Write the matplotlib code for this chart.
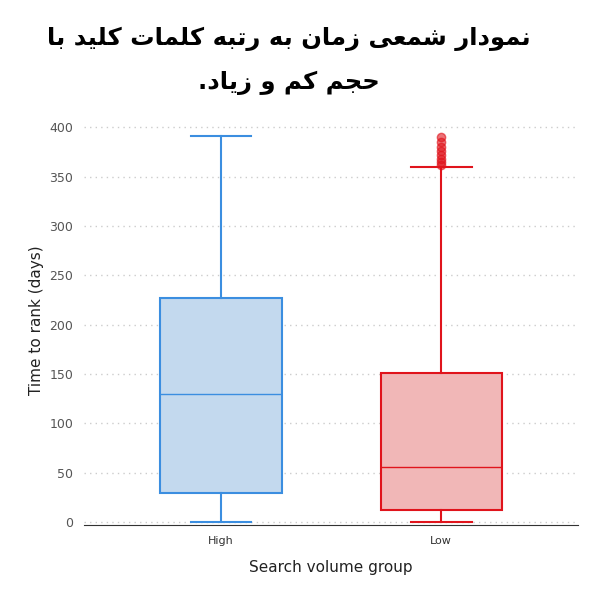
import matplotlib
matplotlib.use("Agg")
import matplotlib.pyplot as plt

groups = ["High", "Low"]
whislo = [0, 0]
q1 = [29, 12]
med = [130, 56]
q3 = [227, 151]
whishi = [391, 360]
fliers_low = [362, 365, 368, 372, 376, 380, 385, 390]
title_lines = ["نمودار شمعی زمان به رتبه کلمات کلید با", "حجم کم و زیاد."]

FORMS = {
 'ا': (0xFE8D, 0xFE8E, None, None), 'ب': (0xFE8F, 0xFE90, 0xFE91, 0xFE92),
 'ت': (0xFE95, 0xFE96, 0xFE97, 0xFE98), 'ج': (0xFE9D, 0xFE9E, 0xFE9F, 0xFEA0),
 'ح': (0xFEA1, 0xFEA2, 0xFEA3, 0xFEA4), 'د': (0xFEA9, 0xFEAA, None, None),
 'ر': (0xFEAD, 0xFEAE, None, None), 'ز': (0xFEAF, 0xFEB0, None, None),
 'ش': (0xFEB5, 0xFEB6, 0xFEB7, 0xFEB8), 'ع': (0xFEC9, 0xFECA, 0xFECB, 0xFECC),
 'ل': (0xFEDD, 0xFEDE, 0xFEDF, 0xFEE0), 'م': (0xFEE1, 0xFEE2, 0xFEE3, 0xFEE4),
 'ن': (0xFEE5, 0xFEE6, 0xFEE7, 0xFEE8), 'ه': (0xFEE9, 0xFEEA, 0xFEEB, 0xFEEC),
 'و': (0xFEED, 0xFEEE, None, None), 'ی': (0xFBFC, 0xFBFD, 0xFBFE, 0xFBFF),
 'ک': (0xFB8E, 0xFB8F, 0xFB90, 0xFB91),
}

def shape(s):
    out = []
    for i, c in enumerate(s):
        if c not in FORMS:
            out.append(c); continue
        iso, fin, ini, mid = FORMS[c]
        p = s[i-1] if i > 0 else None
        n = s[i+1] if i + 1 < len(s) else None
        jp = p in FORMS and FORMS[p][2] is not None
        jn = n in FORMS and ini is not None
        if jp and jn: g = mid
        elif jp: g = fin
        elif jn: g = ini
        else: g = iso
        out.append(chr(g))
    return "".join(out)[::-1]

fig = plt.figure(figsize=(6.02, 5.93), dpi=100)
ax = fig.add_axes([0.14, 0.115, 0.82, 0.69])

colors = [("#3b8ee0", "#c3d9ee"), ("#e0141c", "#f1b7b7")]
for i in range(2):
    st = [dict(whislo=whislo[i], q1=q1[i], med=med[i], q3=q3[i], whishi=whishi[i],
               fliers=fliers_low if i == 1 else [], label=groups[i])]
    ec, fc = colors[i]
    ax.bxp(st, positions=[i], widths=0.55, patch_artist=True,
           boxprops=dict(facecolor=fc, edgecolor=ec, linewidth=1.5),
           medianprops=dict(color=ec, linewidth=1),
           whiskerprops=dict(color=ec, linewidth=1.5),
           capprops=dict(color=ec, linewidth=1.5),
           flierprops=dict(marker='o', markerfacecolor=ec, markeredgecolor=ec,
                           markersize=6, alpha=0.6))

ax.set_xlim(-0.62, 1.62)
ax.set_ylim(-3, 412)
ax.set_yticks(range(0, 401, 50))
ax.set_xticks([0, 1])
ax.set_xticklabels(groups, fontsize=8, color="#333333")
ax.tick_params(axis='y', labelsize=9, colors="#555555", length=0, pad=8)
ax.tick_params(axis='x', length=0, pad=8)
ax.grid(axis='y', linestyle=(0, (1, 3)), color="#cccccc", linewidth=1)
ax.set_axisbelow(True)
for s in ["top", "right", "left"]:
    ax.spines[s].set_visible(False)
ax.spines["bottom"].set_color("#333333")
ax.spines["bottom"].set_zorder(5)
ax.set_ylabel("Time to rank (days)", fontsize=11, color="#222222")
ax.set_xlabel("Search volume group", fontsize=11, color="#222222", labelpad=10)

fig.text(0.48, 0.935, shape(title_lines[0]), ha='center', va='center',
         fontsize=17.5, fontweight='bold', family=['DejaVu Sans'])
fig.text(0.48, 0.86, shape(title_lines[1]), ha='center', va='center',
         fontsize=17.5, fontweight='bold', family=['DejaVu Sans'])

fig.savefig("out.png", dpi=100, facecolor="white")
